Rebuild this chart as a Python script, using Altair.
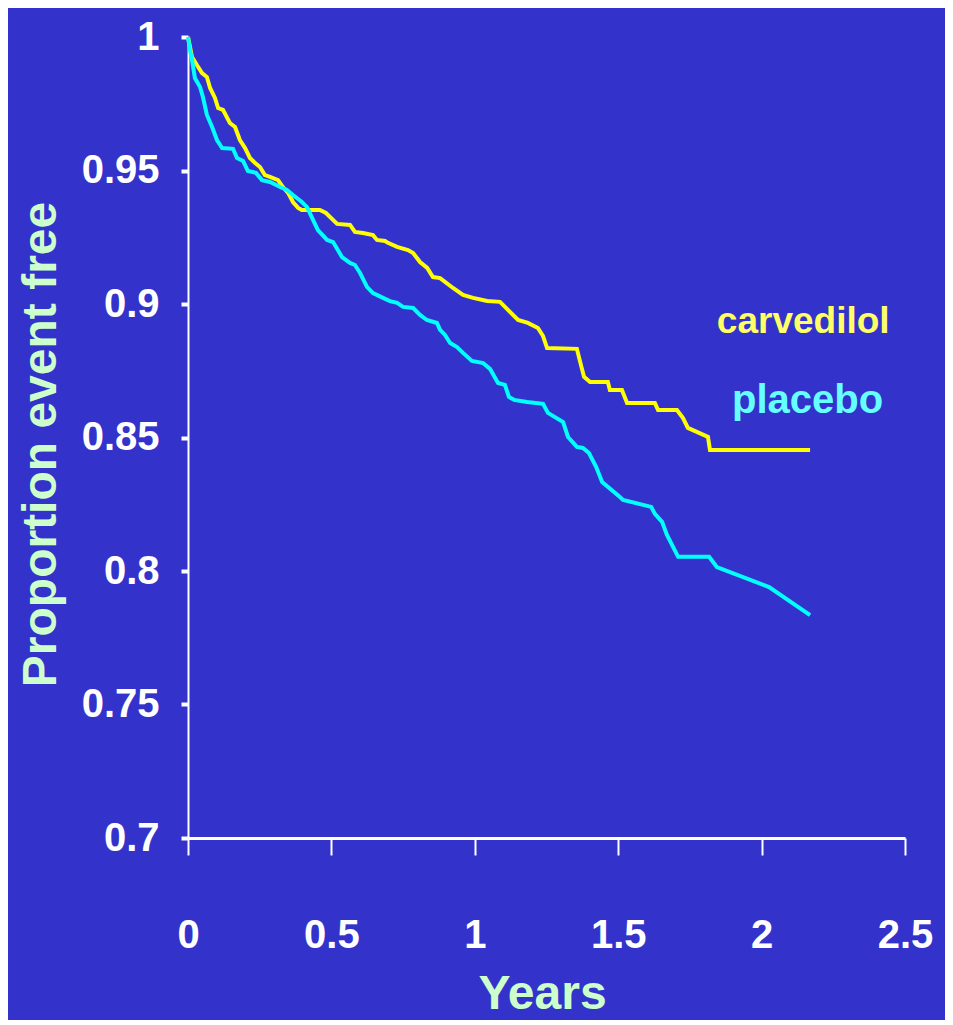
import altair as alt
import pandas as pd

# Carvedilol (yellow) curve
carv_years = [0, 0.014, 0.031, 0.049, 0.066, 0.077, 0.094, 0.105, 0.122, 0.146, 0.164, 0.181,
              0.199, 0.216, 0.234, 0.251, 0.268, 0.286, 0.314, 0.331, 0.349, 0.366, 0.384, 0.397,
              0.460, 0.481, 0.520, 0.565, 0.582, 0.610, 0.645, 0.659, 0.687, 0.697, 0.729, 0.767,
              0.785, 0.809, 0.834, 0.854, 0.879, 0.924, 0.959, 0.994, 1.043, 1.088, 1.113, 1.151,
              1.185, 1.220, 1.238, 1.252, 1.356, 1.370, 1.381, 1.402, 1.464, 1.471, 1.513, 1.531,
              1.628, 1.639, 1.705, 1.726, 1.743, 1.813, 1.820, 2.169]
carv_prop = [1.000, 0.9925, 0.9895, 0.9865, 0.9850, 0.9809, 0.9772, 0.9734, 0.9727, 0.9678, 0.9663,
             0.9614, 0.9584, 0.9547, 0.9528, 0.9513, 0.9483, 0.9476, 0.9464, 0.9438, 0.9416, 0.9382,
             0.9360, 0.9352, 0.9352, 0.9341, 0.9300, 0.9296, 0.9270, 0.9266, 0.9258, 0.9240, 0.9236,
             0.9229, 0.9214, 0.9202, 0.9191, 0.9157, 0.9135, 0.9101, 0.9097, 0.9060, 0.9034, 0.9023,
             0.9011, 0.9008, 0.8981, 0.8940, 0.8929, 0.8910, 0.8880, 0.8835, 0.8832, 0.8772, 0.8727,
             0.8708, 0.8708, 0.8678, 0.8678, 0.8629, 0.8629, 0.8603, 0.8603, 0.8573, 0.8536, 0.8502,
             0.8453, 0.8453]

# Placebo (cyan) curve
plac_years = [0, 0.007, 0.014, 0.024, 0.042, 0.052, 0.066, 0.084, 0.101, 0.119, 0.157, 0.171,
              0.192, 0.209, 0.237, 0.258, 0.286, 0.321, 0.345, 0.366, 0.397, 0.415, 0.436, 0.453,
              0.485, 0.506, 0.537, 0.565, 0.582, 0.600, 0.624, 0.645, 0.680, 0.704, 0.729, 0.750,
              0.785, 0.809, 0.833, 0.868, 0.879, 0.896, 0.914, 0.938, 0.959, 0.990, 1.029, 1.053,
              1.081, 1.105, 1.119, 1.137, 1.182, 1.238, 1.255, 1.308, 1.325, 1.356, 1.377, 1.398,
              1.423, 1.444, 1.506, 1.517, 1.615, 1.628, 1.653, 1.670, 1.709, 1.817, 1.844, 2.026,
              2.169]
plac_prop = [1.0000, 0.9951, 0.9914, 0.9846, 0.9813, 0.9775, 0.9708, 0.9663, 0.9614, 0.9584, 0.9581,
             0.9547, 0.9536, 0.9498, 0.9491, 0.9464, 0.9457, 0.9438, 0.9427, 0.9408, 0.9382, 0.9363,
             0.9315, 0.9277, 0.9240, 0.9232, 0.9176, 0.9154, 0.9146, 0.9116, 0.9064, 0.9041, 0.9023,
             0.9011, 0.9004, 0.8989, 0.8985, 0.8959, 0.8940, 0.8929, 0.8903, 0.8884, 0.8854, 0.8839,
             0.8817, 0.8787, 0.8779, 0.8757, 0.8704, 0.8697, 0.8652, 0.8641, 0.8633, 0.8626, 0.8592,
             0.8558, 0.8502, 0.8465, 0.8461, 0.8442, 0.8390, 0.8333, 0.8277, 0.8266, 0.8240, 0.8214,
             0.8184, 0.8135, 0.8053, 0.8053, 0.8015, 0.7940, 0.7835]

x_ticks = [0, 0.5, 1, 1.5, 2, 2.5]
y_ticks = [0.7, 0.75, 0.8, 0.85, 0.9, 0.95, 1.0]

# In-plot series labels (text and anchor in data units)
label_text = ["carvedilol", "placebo"]
label_x = [1.844, 1.897]
label_y = [0.8891, 0.8592]

BG = "#3333CC"
FONT = "Liberation Sans"

rows = []
for i, (x, y) in enumerate(zip(carv_years, carv_prop)):
    rows.append({"years": x, "prop": y, "group": "carvedilol", "idx": i})
for i, (x, y) in enumerate(zip(plac_years, plac_prop)):
    rows.append({"years": x, "prop": y, "group": "placebo", "idx": i})
df = pd.DataFrame(rows)

labels = pd.DataFrame({"text": label_text, "years": label_x, "prop": label_y})

xenc = alt.X(
    "years:Q",
    scale=alt.Scale(domain=[0, 2.5], nice=False, zero=False),
    axis=alt.Axis(
        values=x_ticks, format=".1~f", title="Years", grid=False,
        domainColor="white", domainWidth=3,
        tickColor="white", tickWidth=2, tickSize=17,
        labelColor="white", labelFont=FONT, labelFontSize=40, labelFontWeight="bold",
        labelPadding=60, labelFlush=False, labelOverlap=False,
        titleColor="#CCFFCC", titleFont=FONT, titleFontSize=48, titleFontWeight="bold",
        titleX=354, titleY=170, titleBaseline="alphabetic", titleAlign="center",
    ),
)
yenc = alt.Y(
    "prop:Q",
    scale=alt.Scale(domain=[0.7, 1.0], nice=False, zero=False),
    axis=alt.Axis(
        values=y_ticks, format=".2~f", title="Proportion event free", grid=False,
        domainColor="white", domainWidth=2,
        tickColor="white", tickWidth=4, tickSize=7,
        labelColor="white", labelFont=FONT, labelFontSize=40, labelFontWeight="bold",
        labelPadding=22, labelFlush=False, labelOverlap=False,
        titleColor="#CCFFCC", titleFont=FONT, titleFontSize=48, titleFontWeight="bold",
        titleX=-133, titleY=407, titleBaseline="alphabetic", titleAlign="center", titleAngle=270,
    ),
)

lines = alt.Chart(df).mark_line(strokeWidth=4, interpolate="linear").encode(
    x=xenc,
    y=yenc,
    color=alt.Color("group:N", scale=alt.Scale(domain=["carvedilol", "placebo"],
                                               range=["#FFFF00", "#00FFFF"]), legend=None),
    order="idx:Q",
    detail="group:N",
)

carv_label = alt.Chart(labels[labels["text"] == "carvedilol"]).mark_text(
    align="left", baseline="alphabetic", font=FONT, fontWeight="bold", fontSize=37, color="#FFFF66"
).encode(x="years:Q", y="prop:Q", text="text:N")

plac_label = alt.Chart(labels[labels["text"] == "placebo"]).mark_text(
    align="left", baseline="alphabetic", font=FONT, fontWeight="bold", fontSize=40, color="#66FFFF"
).encode(x="years:Q", y="prop:Q", text="text:N")

chart = alt.layer(lines, carv_label, plac_label).properties(
    width=717, height=801,
    autosize=alt.AutoSizeParams(type="none"),
    padding={"left": 180, "top": 29, "right": 40, "bottom": 182},
    background=BG,
).configure_view(strokeOpacity=0)

chart.save("out.html", embed_options={"renderer": "svg", "actions": False})
